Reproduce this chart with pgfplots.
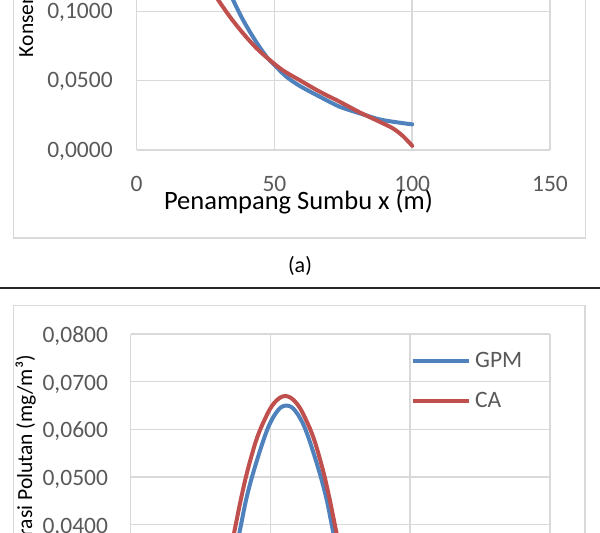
\documentclass[border=0pt]{standalone}
\usepackage{fontspec}
\setmainfont{Carlito}
\usepackage{pgfplots}
\pgfplotsset{compat=1.18}
\definecolor{gridgray}{HTML}{D9D9D9}
\definecolor{tickgray}{HTML}{595959}
\definecolor{gpm}{HTML}{4F81BD}
\definecolor{ca}{HTML}{C0504D}
\pgfplotsset{
  excelstyle/.style={
    scale only axis,
    xmin=0, xmax=150,
    xtick={0,50,100,150},
    grid=major,
    major grid style={draw=gridgray, line width=1.5pt},
    axis line style={draw=none},
    major tick length=0pt,
    tick style={draw=none},
    scaled y ticks=false,
    scaled x ticks=false,
    ticklabel style={font=\fontsize{23.5}{28}\selectfont, text=tickgray, inner sep=0pt, outer sep=0pt,
      /pgf/number format/assume math mode=true},
    yticklabel style={anchor=base east, /pgf/number format/fixed, /pgf/number format/fixed zerofill,
      /pgf/number format/precision=4, /pgf/number format/use comma, /pgf/number format/assume math mode=true},
    xticklabel style={anchor=north, yshift=-26.7pt},
  }
}
\begin{document}
\begin{tikzpicture}
\clip (0,0) rectangle (600pt,533pt);
% outer chart borders (open at the page edges)
\draw[gridgray, line width=1.5pt] (13.4pt,533pt) -- (13.4pt,295pt) -- (585.5pt,295pt) -- (585.5pt,533pt);
\draw[gridgray, line width=1.5pt] (13.3pt,0pt) -- (13.3pt,227.5pt) -- (585pt,227.5pt) -- (585pt,0pt);
% separator line
\draw[black!85, line width=2pt] (0pt,244.7pt) -- (600pt,244.7pt);

% chart (a)
\begin{axis}[excelstyle,
  at={(136.7pt,383pt)}, anchor=south west,
  width=413.3pt, height=150pt,
  ymin=0, ymax=0.10823,
  ytick={0,0.05,0.1},
  yticklabel style={xshift=-24pt, yshift=-7.2pt},
]
\addplot[gpm, line width=4pt, smooth, line join=round, line cap=round] coordinates {
(28,0.145) (31,0.128) (33,0.1176) (35,0.1082) (38.6,0.0938) (42.9,0.0794)
(47.1,0.0673) (50,0.0613) (54.3,0.0529) (59.2,0.0462) (66.4,0.0385)
(73.6,0.0313) (80.9,0.0265) (88.1,0.0221) (95.4,0.0197) (100,0.0185)
};
\addplot[ca, line width=4pt, smooth, line join=round, line cap=round] coordinates {
(22,0.131) (26,0.119) (29.6,0.1082) (33.8,0.0962) (38.6,0.0842) (43.5,0.0734)
(48.3,0.0649) (53.1,0.0574) (59.2,0.0503) (66.4,0.0421) (73.6,0.0349)
(80.9,0.0272) (88.1,0.0204) (92.9,0.0157) (96.6,0.0101) (100,0.0030)
};
\end{axis}
\node[anchor=base, font=\fontsize{26.5}{30}\selectfont] at (298.5pt,323pt) {Penampang Sumbu x (m)};
\node[overlay, anchor=base west, rotate=90, font=\fontsize{21.5}{26}\selectfont, inner sep=0pt] at (33pt,475.7pt) {Konsentrasi Polutan (mg/m³)};
\node[anchor=base, font=\fontsize{22}{26}\selectfont] at (300pt,260pt) {(a)};

% chart (b)
\begin{axis}[excelstyle,
  at={(130.7pt,0pt)}, anchor=south west,
  width=419.3pt, height=199pt,
  ymin=0.03824, ymax=0.08,
  ytick={0.04,0.05,0.06,0.07,0.08},
  xticklabels={},
  yticklabel style={overlay, xshift=-22.7pt, yshift=-8.5pt},
  legend style={at={(0.6678,0.7648)}, anchor=west, draw=none, fill=none,
    inner sep=0pt, outer sep=0pt, row sep=23pt, column sep=4.5pt,
    font=\fontsize{23.5}{28}\selectfont, text=tickgray, nodes={inner sep=0pt}},
  legend cell align=left,
  legend image code/.code={\draw[#1] (0pt,0pt) -- (56pt,0pt);},
]
\addplot[gpm, line width=4pt, smooth, line join=round] coordinates {
(32.7,0.0205) (36.7,0.0318) (39.55,0.0402) (41.2,0.0450) (43.15,0.0495)
(45.7,0.0545) (47.95,0.0585) (49.7,0.0611) (51.7,0.0632) (53.7,0.0646)
(55.7,0.0650) (57.7,0.0646) (59.7,0.0632) (61.7,0.0611) (63.45,0.0585)
(65.7,0.0545) (68.25,0.0495) (70.2,0.0450) (71.85,0.0402) (74.7,0.0318)
(78.7,0.0205)
};
\addlegendentry{GPM}
\addplot[ca, line width=4pt, smooth, line join=round] coordinates {
(29.3,0.0180) (33.3,0.0280) (37.2,0.0389) (39.3,0.0450) (41.55,0.0508)
(44.3,0.0566) (46.3,0.0599) (49.3,0.0637) (51.3,0.0655) (53.3,0.0666)
(55.3,0.0670) (57.3,0.0666) (59.3,0.0655) (61.3,0.0637) (64.3,0.0599)
(66.3,0.0566) (69.05,0.0508) (71.3,0.0450) (73.4,0.0389) (77.3,0.0280)
(81.3,0.0180)
};
\addlegendentry{CA}
\end{axis}
\node[overlay, anchor=base east, rotate=90, font=\fontsize{21.5}{26}\selectfont, inner sep=0pt] at (32pt,178pt) {Konsentrasi Polutan (mg/m³)};
\end{tikzpicture}
\end{document}
